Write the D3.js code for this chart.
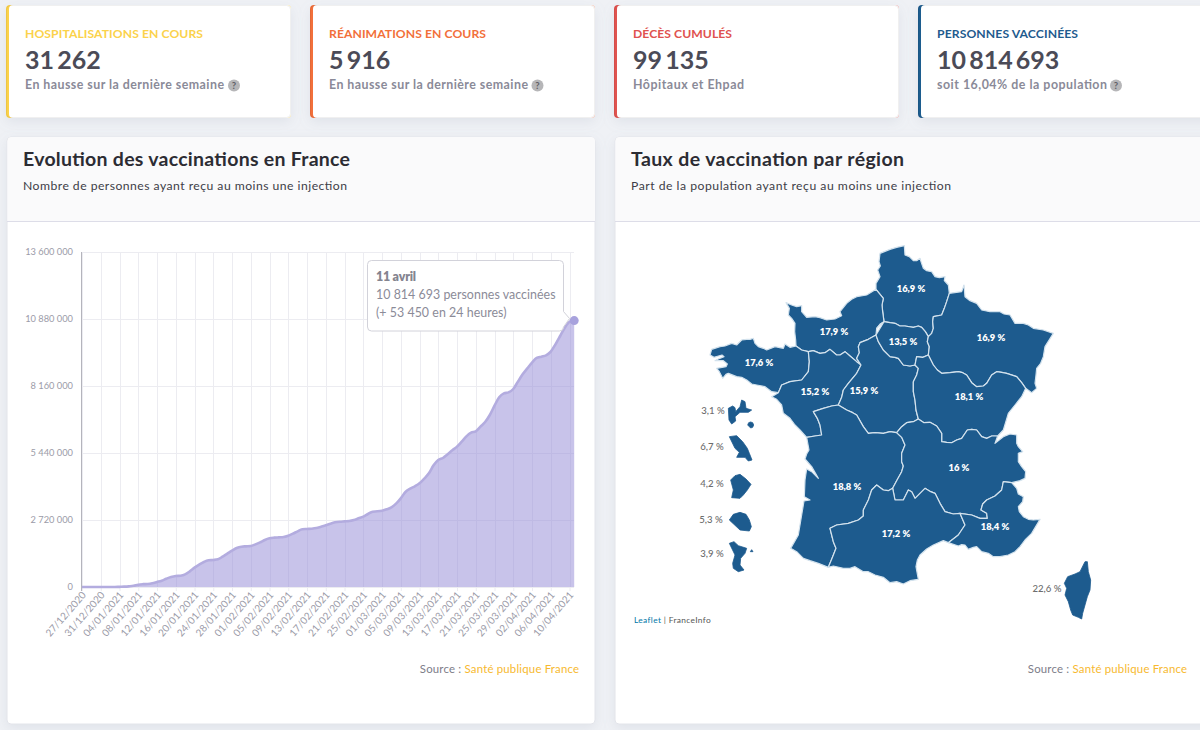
<!DOCTYPE html>
<html lang="fr">
<head>
<meta charset="utf-8">
<title>Vaccinations en France</title>
<script src="https://d3js.org/d3.v7.min.js"></script>
<style>
  html, body { margin: 0; padding: 0; background: #eff1f5; overflow: hidden; }
  svg { display: block; font-family: Lato, sans-serif; }
</style>
</head>
<body>
<div id="page"></div>
<script>
// Chiffres clés
var cardTitles = ["HOSPITALISATIONS EN COURS", "RÉANIMATIONS EN COURS", "DÉCÈS CUMULÉS", "PERSONNES VACCINÉES"];
var cardValues = [31262, 5916, 99135, 10814693];
var cardNotes = ["En hausse sur la dernière semaine", "En hausse sur la dernière semaine", "Hôpitaux et Ehpad", "soit 16,04% de la population"];

// Courbe : personnes vaccinées (en milliers), un point par jour à partir du 27/12/2020
var firstDay = "27/12/2020";
var vaccines = [
  0, 0, 0, 0, 0, 0, 0, 0, 7, 14, 27, 47, 95, 115, 122, 149, 203, 257, 338, 406, 447,
  460, 514, 636, 785, 907, 1015, 1083, 1096, 1123, 1231, 1353, 1475, 1583, 1637, 1651, 1664, 1732,
  1813, 1908, 1976, 2003, 2016, 2030, 2084, 2165, 2260, 2341, 2355, 2368, 2395, 2449, 2503, 2571,
  2625, 2652, 2666, 2679, 2720, 2788, 2855, 2964, 3058, 3072, 3099, 3153, 3234, 3383, 3600, 3857,
  3992, 4087, 4208, 4398, 4614, 4939, 5156, 5237, 5386, 5548, 5697, 5900, 6116, 6265, 6319, 6509,
  6698, 6983, 7361, 7700, 7862, 7903, 8038, 8336, 8633, 8877, 9107, 9297, 9351, 9405, 9554, 9851,
  10190, 10528, 10761, 10814.693
];
var yTicks = [0, 2720000, 5440000, 8160000, 10880000, 13600000];
var xTickLabels = [
  "27/12/2020", "31/12/2020", "04/01/2021", "08/01/2021", "12/01/2021", "16/01/2021", "20/01/2021",
  "24/01/2021", "28/01/2021", "01/02/2021", "05/02/2021", "09/02/2021", "13/02/2021", "17/02/2021",
  "21/02/2021", "25/02/2021", "01/03/2021", "05/03/2021", "09/03/2021", "13/03/2021", "17/03/2021",
  "21/03/2021", "25/03/2021", "29/03/2021", "02/04/2021", "06/04/2021", "10/04/2021"
];
var tooltipLines = ["11 avril", "10 814 693 personnes vaccinées", "(+ 53 450 en 24 heures)"];

// Carte : contours, en km depuis le coin nord-ouest du cadre
var arcs = {
  coastHdf: [[748,160],[745,135],[733,122],[735,110],[718,113],[705,110],[695,95],[680,92],[670,85],[664,68],[660,55],[650,62],[640,62],[628,50],[615,45],[613,17],[590,22],[570,28],[540,40],[537,65],[541,78],[533,90],[540,110],[528,130],[528,148]],
  coastNorm: [[528,148],[500,165],[470,170],[455,178],[440,190],[420,215],[425,227],[405,237],[380,240],[360,233],[345,230],[320,232],[305,215],[305,197],[290,200],[275,195],[258,188],[268,205],[265,225],[275,235],[285,250],[284,275],[287,300],[288,318]],
  coastBret: [[288,318],[270,322],[255,312],[250,325],[225,320],[200,330],[190,325],[175,320],[165,310],[160,295],[150,298],[140,298],[125,300],[110,315],[95,310],[75,318],[60,320],[35,328],[30,345],[42,352],[66,345],[72,350],[55,357],[45,362],[70,362],[82,372],[78,380],[50,385],[58,395],[68,415],[78,403],[85,400],[110,410],[125,412],[140,420],[155,432],[170,435],[195,440],[215,455],[235,458]],
  coastPdl: [[235,458],[215,470],[230,478],[245,495],[250,520],[270,535],[285,555],[300,570],[320,592]],
  coastNa: [[320,592],[327,630],[320,642],[315,657],[335,680],[355,715],[335,695],[320,687],[315,720],[313,770],[330,780],[312,783],[305,825],[295,885],[272,925],[290,935],[310,955],[330,962],[355,970],[385,982]],
  coastOcc: [[385,982],[400,978],[430,985],[450,985],[465,980],[490,995],[505,995],[525,1005],[550,1012],[570,1028],[590,1025],[610,1032],[630,1022],[655,1018],[648,980],[652,960],[660,945],[680,927],[700,915],[730,902],[745,908]],
  coastPaca: [[745,908],[775,918],[785,914],[795,915],[805,928],[820,922],[830,920],[845,935],[865,940],[880,950],[900,950],[925,945],[945,935],[960,920],[975,900],[995,880],[1020,838],[1000,840],[985,838],[970,830],[958,815],[955,800],[968,785],[970,770],[955,762],[950,745],[935,728]],
  borderAra: [[935,728],[960,722],[975,715],[977,695],[965,680],[955,665],[955,640],[968,635],[955,620],[950,610],[950,585],[930,582],[910,590],[885,610],[893,588]],
  borderBfc: [[893,588],[910,570],[925,520],[945,495],[965,470],[977,445]],
  borderGe: [[977,445],[995,458],[1010,445],[1005,430],[1008,405],[1010,385],[1022,370],[1030,350],[1035,320],[1060,280],[1030,270],[1000,265],[985,255],[970,250],[945,250],[930,225],[912,222],[900,215],[870,215],[845,210],[830,190],[810,182],[795,170],[792,135],[785,155],[748,160]],
  hdfNorm: [[528,148],[550,175],[546,195],[548,215],[552,245]],
  hdfIdf: [[552,245],[570,248],[585,250],[600,258],[615,258],[640,262],[655,258],[665,262],[676,275],[685,290]],
  hdfGe: [[685,290],[695,280],[700,265],[698,245],[700,230],[725,225],[733,205],[740,185],[748,160]],
  normIdf: [[552,245],[540,253],[530,265],[528,285]],
  normCvl: [[528,285],[505,298],[480,308],[475,320],[478,338],[470,355],[483,375]],
  normPdl: [[483,375],[470,365],[450,348],[435,335],[420,345],[410,345],[390,328],[375,338],[360,340],[340,332],[325,335]],
  normBret: [[325,335],[305,330],[288,318]],
  bretPdl: [[325,335],[328,365],[325,395],[305,420],[270,425],[245,435],[235,458]],
  pdlCvl: [[483,375],[470,400],[445,430],[430,450],[425,472],[415,495]],
  pdlNa: [[415,495],[395,498],[370,505],[340,515],[352,535],[360,555],[365,585],[345,588],[320,592]],
  cvlNa: [[415,495],[440,510],[458,518],[470,525],[490,560],[505,580],[525,578],[550,580],[570,575],[590,578]],
  cvlAra: [[590,578],[605,560],[620,548],[640,545],[655,537]],
  cvlBfc: [[655,537],[648,510],[645,480],[640,455],[640,425],[650,405],[655,385],[645,375]],
  idfCvl: [[528,285],[535,305],[550,330],[570,350],[585,352],[595,355],[610,375],[630,378],[645,375]],
  idfBfc: [[645,375],[650,350],[668,352],[685,345]],
  idfGe: [[685,290],[682,305],[688,320],[685,345]],
  geBfc: [[685,345],[700,375],[712,390],[725,400],[750,398],[775,395],[788,398],[800,405],[815,428],[830,440],[850,438],[860,430],[875,405],[890,395],[905,397],[920,400],[950,410],[965,428],[977,445]],
  bfcAra: [[655,537],[672,548],[690,547],[710,558],[725,580],[725,605],[740,607],[755,608],[770,600],[785,595],[802,570],[815,568],[830,570],[845,590],[860,595],[875,588],[893,588]],
  naAra: [[590,578],[605,592],[615,615],[605,640],[605,665],[610,678],[605,695],[590,722],[578,745]],
  naOcc: [[578,745],[565,752],[550,750],[530,735],[515,750],[505,780],[490,810],[490,828],[475,840],[445,850],[410,855],[390,865],[395,885],[400,905],[408,925],[398,950],[385,982]],
  araOcc: [[578,745],[585,780],[610,780],[625,750],[635,755],[645,775],[660,760],[675,745],[692,755],[705,760],[720,790],[735,815],[760,822],[780,820]],
  araPaca: [[780,820],[815,825],[840,835],[862,835],[860,820],[843,810],[848,792],[860,780],[885,768],[905,750],[910,725],[935,728]],
  occPaca: [[780,820],[795,855],[785,870],[775,885],[745,908]]
};
// "-" : arc parcouru à l'envers
var regionNames = ["Hauts-de-France", "Normandie", "Bretagne", "Pays de la Loire", "Centre-Val de Loire", "Île-de-France", "Grand Est", "Bourgogne-Franche-Comté", "Nouvelle-Aquitaine", "Auvergne-Rhône-Alpes", "Occitanie", "Provence-Alpes-Côte d'Azur"];
var regionArcs = [
  ["coastHdf", "hdfNorm", "hdfIdf", "hdfGe"],
  ["coastNorm", "-normBret", "-normPdl", "-normCvl", "-normIdf", "-hdfNorm"],
  ["coastBret", "-bretPdl", "normBret"],
  ["coastPdl", "-pdlNa", "-pdlCvl", "normPdl", "bretPdl"],
  ["normCvl", "pdlCvl", "cvlNa", "cvlAra", "cvlBfc", "-idfCvl"],
  ["hdfIdf", "idfGe", "-idfBfc", "-idfCvl", "normIdf"],
  ["-hdfGe", "idfGe", "geBfc", "borderGe"],
  ["idfBfc", "geBfc", "-borderBfc", "-bfcAra", "cvlBfc"],
  ["coastNa", "-naOcc", "-naAra", "-cvlNa", "pdlNa"],
  ["bfcAra", "-borderAra", "-araPaca", "-araOcc", "-naAra", "cvlAra"],
  ["naOcc", "coastOcc", "-occPaca", "-araOcc"],
  ["occPaca", "coastPaca", "-araPaca"]
];
var regionRates = [16.9, 17.9, 17.6, 15.2, 15.9, 13.5, 16.9, 18.1, 18.8, 16, 17.2, 18.4];
var regionLabelAt = [[633,147],[402,276],[177,369],[345,456],[492,453],[609,306],[873,294],[807,471],[441,741],[777,684],[588,882],[885,861]];

// Corse et outre-mer : étiquette sombre à côté du contour
var islandNames = ["Guadeloupe", "Martinique", "Guyane", "La Réunion", "Mayotte", "Corse"];
var islandRates = [3.1, 6.7, 4.2, 5.3, 3.9, 22.6];
var islandLabelAt = [[39,513],[36,621],[36,732],[33,840],[36,942],[1041,1047]];
var islandRings = [
  [[[85,505],[98,498],[105,503],[107,515],[120,500],[125,480],[135,485],[138,505],[155,510],[145,517],[120,517],[105,530],[107,543],[95,552],[87,540],[83,520]], [[143,555],[146,548],[152,546],[158,548],[161,555],[158,562],[152,564],[146,562]]],
  [[[88,590],[110,587],[128,605],[142,625],[148,640],[156,660],[145,663],[135,652],[110,652],[118,637],[105,625],[92,610]]],
  [[[92,720],[105,707],[120,703],[138,717],[153,733],[142,750],[130,765],[120,775],[95,773],[100,750],[95,735]]],
  [[[88,840],[100,823],[120,817],[138,823],[148,840],[154,860],[148,873],[120,870],[102,860]]],
  [[[88,910],[102,905],[115,917],[140,925],[135,940],[122,955],[120,975],[132,990],[115,995],[100,985],[98,970],[105,945],[95,930]], [[151,935],[155,929],[159,935],[155,941]]],
  [[[1155,965],[1162,965],[1165,995],[1172,1020],[1170,1050],[1162,1070],[1155,1095],[1148,1120],[1145,1137],[1135,1132],[1118,1125],[1112,1110],[1105,1085],[1095,1065],[1100,1045],[1093,1030],[1103,1010],[1125,1002],[1140,995],[1155,995]]]
];

var W = 1200, H = 730;
var fr = d3.formatLocale({ decimal: ",", thousands: "\u2009", grouping: [3], currency: ["", " €"] });
var frTicks = d3.formatLocale({ decimal: ",", thousands: "\u2005", grouping: [3], currency: ["", " €"] });
var fmtInt = fr.format(",d");
var fmtTick = frTicks.format(",d");
var fmtRate = function(v) { return fr.format("~r")(v) + " %"; };
var parseDay = d3.timeParse("%d/%m/%Y");
var fmtDay = d3.timeFormat("%d/%m/%Y");

var svg = d3.select("#page").append("svg").attr("width", W).attr("height", H);

var defs = svg.append("defs");
var shadow = defs.append("filter").attr("id", "shadow")
  .attr("x", "-10%").attr("y", "-10%").attr("width", "120%").attr("height", "125%");
shadow.append("feDropShadow").attr("dx", 0).attr("dy", 4).attr("stdDeviation", 6)
  .attr("flood-color", "#8f96ad").attr("flood-opacity", 0.16);

// Cartes du haut
var cardX = [6, 310, 614, 918];
var cardColors = ["#fbd24b", "#f2703a", "#e0524f", "#1f5b8e"];
var noteIcon = [234, 537.5, null, 1116];
var cardTitleLen = [178, 157, 99, 141];
var cardNoteLen = [199, 199, 111, 170];

cardTitles.forEach(function(title, i) {
  var w = 285 + (i === 3 ? 40 : 0);
  var g = svg.append("g").attr("transform", "translate(" + cardX[i] + ",5)");
  g.append("rect").attr("width", w).attr("height", 113).attr("rx", 4)
    .attr("fill", cardColors[i]).attr("filter", "url(#shadow)");
  g.append("path")
    .attr("d", "M7,0H" + (w - 4) + "a4,4 0 0 1 4,4V109a4,4 0 0 1 -4,4H7a4,4 0 0 1 -4,-4V4a4,4 0 0 1 4,-4Z")
    .attr("fill", "#fff");
  g.append("rect").attr("x", 0.5).attr("y", 0.5).attr("width", w - 1).attr("height", 112).attr("rx", 4)
    .attr("fill", "none").attr("stroke", "#000").attr("stroke-opacity", 0.06);
  g.append("text").attr("x", 19).attr("y", 33).attr("fill", cardColors[i])
    .attr("font-size", 12.2).attr("font-weight", 700).attr("textLength", cardTitleLen[i]).text(title);
  g.append("text").attr("x", 19).attr("y", 64).attr("fill", "#4b4b57")
    .attr("font-size", 25).attr("font-weight", 700).text(fmtInt(cardValues[i]));
  g.append("text").attr("x", 19).attr("y", 84).attr("fill", "#8a8a98")
    .attr("font-size", 12.4).attr("font-weight", 700).attr("textLength", cardNoteLen[i]).text(cardNotes[i]);
  if (noteIcon[i] !== null) {
    var icon = svg.append("g").attr("transform", "translate(" + noteIcon[i] + ",85.5)");
    icon.append("circle").attr("r", 6).attr("fill", "#b6b6b8");
    icon.append("text").attr("y", 3.5).attr("text-anchor", "middle").attr("font-size", 9.5)
      .attr("font-weight", 700).attr("fill", "#5f5f66").text("?");
  }
});

// Panneaux
function panel(x, width, title, subtitle, titleLen, subLen) {
  var g = svg.append("g").attr("transform", "translate(" + x + ",137)");
  g.append("rect").attr("width", width).attr("height", 587).attr("rx", 4)
    .attr("fill", "#fff").attr("stroke", "#e2e4ea").attr("filter", "url(#shadow)");
  g.append("path").attr("d", "M0.5,84V4a4,4 0 0 1 4,-4H" + (width - 4) + "a4,4 0 0 1 4,4V84Z").attr("fill", "#fafafb");
  g.append("line").attr("x1", 0).attr("x2", width).attr("y1", 84.5).attr("y2", 84.5).attr("stroke", "#dddde8");
  g.append("text").attr("x", 16).attr("y", 28.5).attr("fill", "#2c2c33")
    .attr("font-size", 19.5).attr("font-weight", 700).attr("textLength", titleLen).text(title);
  g.append("text").attr("x", 16).attr("y", 53).attr("fill", "#3d3d47")
    .attr("font-size", 12.2).attr("textLength", subLen).text(subtitle);
}
panel(7, 588, "Evolution des vaccinations en France", "Nombre de personnes ayant reçu au moins une injection", 327, 324);
panel(615, 620, "Taux de vaccination par région", "Part de la population ayant reçu au moins une injection", 273, 320);

// Courbe
var days = vaccines.map(function(d, i) { return d3.timeDay.offset(parseDay(firstDay), i); });
var x = d3.scaleTime().domain([days[0], days[days.length - 1]]).range([82, 574.2]);
var y = d3.scaleLinear().domain([0, 13600000]).range([587, 252]);
var xTickDays = xTickLabels.map(parseDay);

var chart = svg.append("g");
var gridColor = "#ececf1";

chart.append("g").attr("transform", "translate(82,0)")
  .call(d3.axisLeft(y).tickValues(yTicks).tickSize(0).tickPadding(9).tickFormat(fmtTick))
  .call(function(g) {
    g.select(".domain").remove();
    g.selectAll("text").attr("fill", "#9b9ba8").attr("font-size", 9.3).attr("font-family", "Lato, sans-serif");
  });

chart.append("g").selectAll("line").data(yTicks).join("line")
  .attr("x1", 82).attr("x2", 574).attr("y1", function(d) { return Math.round(y(d)) + 0.5; })
  .attr("y2", function(d) { return Math.round(y(d)) + 0.5; }).attr("stroke", gridColor);

chart.append("g").selectAll("line").data(xTickDays).join("line")
  .attr("x1", function(d) { return Math.round(x(d)) + 0.5; }).attr("x2", function(d) { return Math.round(x(d)) + 0.5; })
  .attr("y1", 252).attr("y2", 587).attr("stroke", gridColor);

chart.append("g").attr("transform", "translate(0,587)")
  .call(d3.axisBottom(x).tickValues(xTickDays).tickSize(4).tickFormat(fmtDay))
  .call(function(g) {
    g.select(".domain").remove();
    g.selectAll("line").attr("stroke", gridColor);
    g.selectAll("text").attr("fill", "#9b9ba8").attr("font-size", 10).attr("font-family", "Lato, sans-serif")
      .attr("text-anchor", "end").attr("x", 0).attr("y", 0).attr("dy", "0.35em")
      .attr("transform", "translate(1.5,6) rotate(-49)");
  });

chart.append("line").attr("x1", 81.5).attr("x2", 81.5).attr("y1", 252).attr("y2", 591).attr("stroke", "#b4b4bc");

var series = days.map(function(d, i) { return { day: d, value: vaccines[i] * 1000 }; });
chart.append("path").datum(series).attr("fill", "#9a92d8").attr("fill-opacity", 0.55)
  .attr("d", d3.area().curve(d3.curveMonotoneX).x(function(d) { return x(d.day); })
    .y0(y(0)).y1(function(d) { return y(d.value); }));
chart.append("path").datum(series).attr("fill", "none").attr("stroke", "#b3acdf").attr("stroke-width", 2.6)
  .attr("d", d3.line().curve(d3.curveMonotoneX).x(function(d) { return x(d.day); })
    .y(function(d) { return y(d.value); }));

var last = series[series.length - 1];
chart.append("circle").attr("cx", x(last.day)).attr("cy", y(last.value)).attr("r", 4.5).attr("fill", "#a8a2dd");

// Infobulle sur le dernier point
var tip = chart.append("g").attr("transform", "translate(367.5,260.5)");
tip.append("path")
  .attr("d", "M4,0H192a4,4 0 0 1 4,4V51L202,58L196,66.5a4,4 0 0 1 -4,4H4a4,4 0 0 1 -4,-4V4a4,4 0 0 1 4,-4Z")
  .attr("fill", "#fff").attr("stroke", "#d2d2da");
tooltipLines.forEach(function(line, i) {
  tip.append("text").attr("x", 8.5).attr("y", 20 + i * 18)
    .attr("fill", i === 0 ? "#84848f" : "#8b8b98").attr("font-size", 12.4)
    .attr("font-weight", i === 0 ? 800 : 400)
    .attr("textLength", [40, 179.5, 130.5][i]).text(line);
});

svg.append("text").attr("x", 579.3).attr("y", 672.5).attr("text-anchor", "end").attr("font-size", 11.4)
  .attr("fill", "#7d7d89").attr("letter-spacing", 0.2)
  .html('Source : <tspan fill="#f7b92f">Santé publique France</tspan>');

// Carte
var mapX = d3.scaleLinear().domain([0, 1200]).range([700, 1100]);
var mapY = d3.scaleLinear().domain([0, 1200]).range([240, 640]);
var mapPath = d3.geoPath(d3.geoTransform({
  point: function(px, py) { this.stream.point(mapX(px), mapY(py)); }
}));

function regionRing(names) {
  var ring = [];
  names.forEach(function(name) {
    var reversed = name.charAt(0) === "-";
    var arc = arcs[reversed ? name.slice(1) : name];
    ring = ring.concat(reversed ? arc.slice().reverse() : arc);
  });
  return ring;
}

var mapColor = "#1d5b8e";
var map = svg.append("g");

map.selectAll("path.region").data(regionNames).join("path").attr("class", "region")
  .attr("d", function(d, i) { return mapPath({ type: "Polygon", coordinates: [regionRing(regionArcs[i])] }); })
  .attr("fill", mapColor).attr("stroke", "#d3e2ed").attr("stroke-width", 1.2).attr("stroke-linejoin", "round");

map.selectAll("path.island").data(islandNames).join("path").attr("class", "island")
  .attr("d", function(d, i) {
    return mapPath({ type: "MultiPolygon", coordinates: islandRings[i].map(function(r) { return [r]; }) });
  })
  .attr("fill", mapColor).attr("stroke", mapColor).attr("stroke-width", 0.8).attr("stroke-linejoin", "round");

map.selectAll("text.rate").data(regionRates).join("text").attr("class", "rate")
  .attr("x", function(d, i) { return mapX(regionLabelAt[i][0]); })
  .attr("y", function(d, i) { return mapY(regionLabelAt[i][1]) + 3.2; })
  .attr("text-anchor", "middle").attr("fill", "#fff").attr("font-size", 9.4).attr("font-weight", 800)
  .text(fmtRate);

map.selectAll("text.island-rate").data(islandRates).join("text").attr("class", "island-rate")
  .attr("x", function(d, i) { return mapX(islandLabelAt[i][0]); })
  .attr("y", function(d, i) { return mapY(islandLabelAt[i][1]) + 3.2; })
  .attr("text-anchor", "middle").attr("fill", "#6d6d6d").attr("font-size", 9.6).attr("font-weight", 500)
  .text(fmtRate);

svg.append("text").attr("x", 634).attr("y", 623).attr("font-size", 8.4).attr("fill", "#555").attr("letter-spacing", 0.35)
  .html('<tspan fill="#0078a8">Leaflet</tspan> | FranceInfo');

svg.append("text").attr("x", 1187.3).attr("y", 672.5).attr("text-anchor", "end").attr("font-size", 11.4)
  .attr("fill", "#7d7d89").attr("letter-spacing", 0.2)
  .html('Source : <tspan fill="#f7b92f">Santé publique France</tspan>');
</script>
</body>
</html>
